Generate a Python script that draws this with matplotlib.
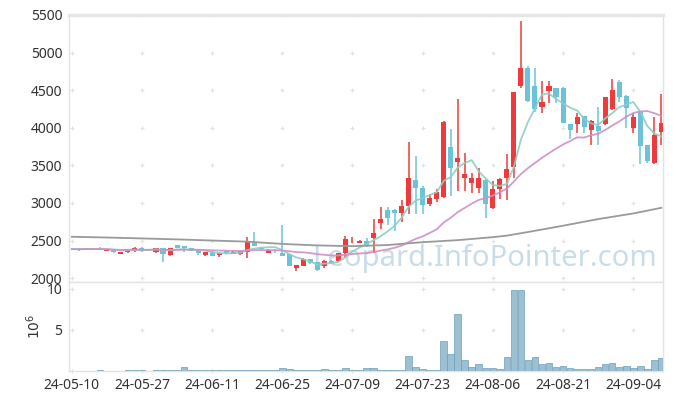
import matplotlib
matplotlib.use('Agg')
import matplotlib.pyplot as plt
import numpy as np
import pandas as pd

plt.rcParams['font.family'] = ['Noto Sans', 'DejaVu Sans']

# daily OHLC (KRW), 2024-05-10 .. 2024-09-10
opens = [2390, 2390, 2390, 2392, 2405, 2360, 2378, 2325, 2352, 2358,
         2405, 2388, 2352, 2400, 2312, 2440, 2428, 2395, 2385, 2310,
         2350, 2306, 2358, 2320, 2318, 2350, 2475, 2405, 2338, 2368,
         2340, 2315, 2140, 2165, 2250, 2215, 2162, 2230, 2228, 2338,
         2478, 2470, 2496, 2536, 2735, 2904, 2904, 2870, 2958, 3300,
         3195, 2980, 3047, 3082, 3747, 3547, 3326, 3260, 3201, 3304,
         2927, 3185, 3326, 3481, 4559, 4790, 4555, 4280, 4488, 4528,
         4528, 4045, 4045, 4155, 3969, 4023, 4045, 4245, 4604, 4422,
         3992, 4213, 3770, 3526, 3947]
closes = [2385, 2385, 2388, 2388, 2385, 2378, 2345, 2350, 2388, 2405,
          2360, 2368, 2400, 2320, 2400, 2402, 2395, 2362, 2330, 2342,
          2300, 2337, 2330, 2350, 2360, 2492, 2430, 2390, 2380, 2360,
          2300, 2165, 2172, 2260, 2198, 2108, 2230, 2205, 2336, 2518,
          2482, 2495, 2428, 2594, 2785, 2802, 2870, 2958, 3326, 3202,
          2972, 3068, 3144, 4080, 3460, 3600, 3380, 3326, 3326, 2981,
          3180, 3320, 3450, 4471, 4790, 4355, 4245, 4338, 4555, 4413,
          4066, 3970, 4146, 4013, 4093, 3960, 4405, 4502, 4413, 4258,
          4138, 3757, 3561, 3903, 4067]
highs = [2400, 2395, 2395, 2400, 2410, 2380, 2380, 2352, 2390, 2415,
         2410, 2392, 2405, 2405, 2405, 2442, 2430, 2400, 2388, 2345,
         2355, 2340, 2370, 2355, 2362, 2545, 2610, 2420, 2382, 2390,
         2700, 2320, 2180, 2265, 2255, 2220, 2240, 2235, 2340, 2565,
         2550, 2505, 2530, 2790, 2940, 2940, 2920, 3040, 3806, 3625,
         3230, 3120, 3180, 4085, 3990, 4378, 3660, 3395, 3460, 3315,
         3290, 3330, 3650, 4480, 5420, 4825, 4790, 4620, 4626, 4535,
         4540, 4050, 4190, 4160, 4100, 4280, 4410, 4644, 4635, 4430,
         4200, 4215, 3775, 4146, 4449]
lows = [2370, 2365, 2380, 2375, 2370, 2355, 2335, 2320, 2340, 2350,
        2350, 2362, 2340, 2210, 2300, 2398, 2350, 2355, 2305, 2290,
        2295, 2280, 2320, 2315, 2310, 2270, 2425, 2370, 2335, 2330,
        2290, 2160, 2095, 2160, 2190, 2100, 2130, 2200, 2215, 2285,
        2462, 2465, 2420, 2330, 2652, 2700, 2625, 2750, 2850, 2850,
        2850, 2960, 3015, 3068, 3090, 3160, 3160, 3135, 3135, 2795,
        2925, 3050, 3040, 3330, 4525, 4345, 4210, 4195, 4325, 4330,
        4060, 3850, 3925, 3925, 3770, 3770, 4040, 4240, 4345, 3995,
        3925, 3517, 3526, 3520, 3770]
# volume in millions of shares
volumes = [0.02, 0.02, 0.01, 0.02, 0.03, 0.02, 0.02, 0.02, 0.03, 0.03,
           0.03, 0.02, 0.03, 0.09, 0.03, 0.04, 0.45, 0.10, 0.04, 0.03,
           0.03, 0.03, 0.04, 0.05, 0.04, 0.10, 0.10, 0.03, 0.03, 0.05,
           0.33, 0.20, 0.10, 0.10, 0.03, 0.10, 0.20, 0.03, 0.05, 0.29,
           0.08, 0.04, 0.29, 0.29, 0.10, 0.10, 0.10, 0.05, 1.77, 0.42,
           0.17, 0.10, 0.10, 3.60, 2.05, 6.93, 1.27, 0.42, 0.78, 0.29,
           0.29, 0.17, 1.64, 9.87, 9.87, 1.27, 1.64, 0.78, 0.90, 0.42,
           0.54, 0.29, 0.17, 0.17, 0.17, 0.42, 0.78, 0.90, 0.42, 0.54,
           0.29, 0.54, 0.17, 1.27, 1.52]
# long moving average (gray), sampled every few sessions
long_ma_idx = [0, 5, 10, 15, 20, 25, 30, 35, 40, 45, 50, 55, 60, 62, 65, 70, 75, 80, 84]
long_ma = [2550, 2540, 2528, 2515, 2500, 2485, 2455, 2435, 2425, 2440,
           2478, 2505, 2545, 2565, 2613, 2697, 2785, 2860, 2935]
tick_labels = ['24-05-10', '24-05-27', '24-06-11', '24-06-25', '24-07-09',
               '24-07-23', '24-08-06', '24-08-21', '24-09-04']

df = pd.DataFrame({'open': opens, 'close': closes, 'high': highs, 'low': lows, 'vol': volumes})
x = np.arange(len(df))
up = df['close'] >= df['open']
colors = np.where(up, '#ee3a3a', '#6cc3d9')
ma5 = df['close'].rolling(5, min_periods=1).mean()
ma20 = df['close'].rolling(20, min_periods=1).mean()

fig = plt.figure(figsize=(6.73, 4), dpi=100)
ax1 = fig.add_axes([0.103, 0.294, 0.882, 0.6685])
ax2 = fig.add_axes([0.103, 0.0733, 0.882, 0.2207], sharex=ax1)

# watermark
ax1.text(0.70, 0.09, 'Leopard.InfoPointer.com', transform=ax1.transAxes,
         ha='center', va='center', fontsize=21, color='#c9dce7', zorder=1)

# candles
ax1.vlines(x, df['low'], df['high'], colors=colors, lw=1.1, zorder=3)
body_bot = np.minimum(df['open'], df['close'])
body_h = np.maximum((df['close'] - df['open']).abs(), 8)
ax1.bar(x, body_h, bottom=body_bot, width=0.72, color=colors, zorder=3)

# moving averages
ax1.plot(x, ma5, color='#8ecdc4', lw=1.3, alpha=0.9, zorder=4)
ax1.plot(x, ma20, color='#cf8fc8', lw=1.3, alpha=0.9, zorder=4)
ax1.plot(long_ma_idx, long_ma, color='#9a9a9a', lw=1.3, zorder=4)

ax1.set_ylim(1943, 5500)
ax1.set_xlim(-0.35, 84.23)
ax1.set_yticks(np.arange(2000, 5501, 500))
ax1.tick_params(axis='y', length=0, pad=5, labelsize=10, labelcolor='#333333')
ax1.tick_params(axis='x', length=0, labelbottom=False)

# volume
ax2.bar(x, df['vol'], width=0.95, color='#9bc0d2', edgecolor='#6f9fb8', lw=0.5, zorder=3)
ax2.set_ylim(0, 10.75)
ax2.set_yticks([5, 10])
ax2.set_xticks(np.arange(0, 85, 10))
ax2.set_xticklabels(tick_labels)
ax2.tick_params(axis='both', length=0, pad=5, labelsize=10, labelcolor='#333333')
ax2.set_ylabel(r'$10^6$', fontsize=10, color='#333333', labelpad=2)

# grid crosses
gx, gy = np.meshgrid(np.arange(0, 85, 10), np.arange(2000, 5501, 500))
ax1.scatter(gx.ravel(), gy.ravel(), marker='+', s=10, color='#e2e2e2', lw=0.8, zorder=2)
gx, gy = np.meshgrid(np.arange(0, 85, 10), [0, 5, 10])
ax2.scatter(gx.ravel(), gy.ravel(), marker='+', s=10, color='#e2e2e2', lw=0.8, zorder=2, clip_on=False)

for ax in (ax1, ax2):
    for s in ax.spines.values():
        s.set_color('#e3e3e3')
        s.set_linewidth(1)
ax1.spines['top'].set_linewidth(2.5)
ax1.spines['top'].set_color('#e6e6e6')

fig.savefig('out.png', dpi=100)
